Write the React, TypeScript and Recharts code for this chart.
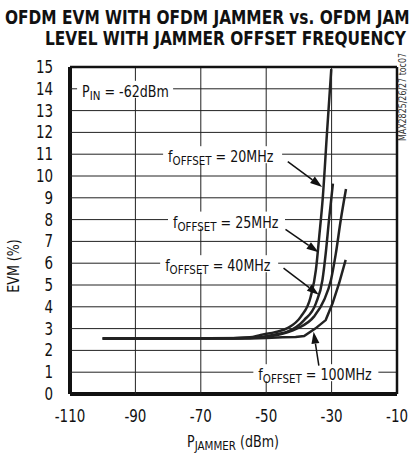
import React from "react";
import { LineChart, Line, XAxis, YAxis } from "recharts";

const FONT = "'Liberation Sans Narrow', 'DejaVu Sans Condensed', 'Roboto', sans-serif";
const SQUEEZE = 0.88;

const W = 410;
const H = 453;
const MARGIN = { top: 67, right: 13, bottom: 0, left: 0 };
const YAXIS_W = 70;
const XAXIS_H = 59;

const xTicks = [-110, -90, -70, -50, -30, -10];
const yTicks = [0, 1, 2, 3, 4, 5, 6, 7, 8, 9, 10, 11, 12, 13, 14, 15];
const X_MIN = -110;
const X_MAX = -10;
const Y_MIN = 0;
const Y_MAX = 15;

// EVM (%) vs jammer power (dBm), one array per offset frequency
const offset20 = [
  { p: -100, evm: 2.55 },
  { p: -80, evm: 2.55 },
  { p: -60, evm: 2.56 },
  { p: -55, evm: 2.6 },
  { p: -51.7, evm: 2.71 },
  { p: -47, evm: 2.85 },
  { p: -43.5, evm: 3.02 },
  { p: -39.4, evm: 3.55 },
  { p: -36.4, evm: 4.46 },
  { p: -34.8, evm: 5.69 },
  { p: -33.8, evm: 7.2 },
  { p: -32.7, evm: 9.0 },
  { p: -31.4, evm: 12.0 },
  { p: -30.1, evm: 14.9 },
];

const offset25 = [
  { p: -100, evm: 2.55 },
  { p: -80, evm: 2.55 },
  { p: -60, evm: 2.56 },
  { p: -55, evm: 2.58 },
  { p: -50, evm: 2.65 },
  { p: -46.5, evm: 2.75 },
  { p: -43.5, evm: 2.86 },
  { p: -38.4, evm: 3.39 },
  { p: -34.8, evm: 4.16 },
  { p: -32.8, evm: 5.23 },
  { p: -31.8, evm: 6.45 },
  { p: -30.8, evm: 7.98 },
  { p: -29.6, evm: 9.65 },
];

const offset40 = [
  { p: -100, evm: 2.55 },
  { p: -80, evm: 2.55 },
  { p: -55, evm: 2.57 },
  { p: -50, evm: 2.62 },
  { p: -46.6, evm: 2.71 },
  { p: -43.5, evm: 2.83 },
  { p: -40.5, evm: 3.01 },
  { p: -35.4, evm: 3.55 },
  { p: -32.3, evm: 4.31 },
  { p: -30.2, evm: 5.23 },
  { p: -28.7, evm: 6.45 },
  { p: -27.2, evm: 7.98 },
  { p: -25.6, evm: 9.4 },
];

const offset100 = [
  { p: -100, evm: 2.55 },
  { p: -80, evm: 2.55 },
  { p: -55, evm: 2.55 },
  { p: -50, evm: 2.57 },
  { p: -45, evm: 2.6 },
  { p: -41, evm: 2.62 },
  { p: -38.4, evm: 2.66 },
  { p: -35, evm: 3.0 },
  { p: -31.8, evm: 3.39 },
  { p: -29.7, evm: 4.16 },
  { p: -27.7, evm: 5.08 },
  { p: -25.7, evm: 6.15 },
];

const series = [
  { name: "20MHz", data: offset20, type: "monotone" },
  { name: "25MHz", data: offset25, type: "monotone" },
  { name: "40MHz", data: offset40, type: "monotone" },
  { name: "100MHz", data: offset100, type: "linear" },
];

// annotation labels: text start x (dBm), grid line they sit on (EVM), box width (px)
const labels = [
  { x: -106.3, y: 14, main: "P", sub: "IN", rest: " = -62dBm", w: 96 },
  { x: -80.0, y: 11, main: "f", sub: "OFFSET", rest: " = 20MHz", w: 119 },
  { x: -78.5, y: 8, main: "f", sub: "OFFSET", rest: " = 25MHz", w: 117 },
  { x: -80.9, y: 6, main: "f", sub: "OFFSET", rest: " = 40MHz", w: 118 },
  { x: -52.4, y: 1, main: "f", sub: "OFFSET", rest: " = 100MHz", w: 125 },
];

// arrow tails and tips (dBm, EVM)
const arrows = [
  { from: [-43.4, 10.66], to: [-32.9, 9.5] },
  { from: [-44.1, 7.55], to: [-34.0, 6.5] },
  { from: [-44.7, 5.77], to: [-33.9, 4.55] },
  { from: [-33.9, 1.3], to: [-35.5, 2.86] },
];

// plot box, same as the one the chart gets from its margins and axis sizes
const PL = MARGIN.left + YAXIS_W;
const PR = W - MARGIN.right;
const PT = MARGIN.top;
const PB = H - MARGIN.bottom - XAXIS_H;
const sx = (v: number) => PL + ((v - X_MIN) / (X_MAX - X_MIN)) * (PR - PL);
const sy = (v: number) => PB - ((v - Y_MIN) / (Y_MAX - Y_MIN)) * (PB - PT);

function XTick(props: any) {
  const { x, y, payload } = props;
  return (
    <text
      transform={`translate(${x},${y}) scale(${SQUEEZE},1)`}
      dy="0.71em"
      textAnchor="middle"
      fontFamily={FONT}
      fontSize={17}
      fill="#111"
    >
      {payload.value}
    </text>
  );
}

function YTick(props: any) {
  const { x, y, payload } = props;
  return (
    <text
      transform={`translate(${x},${y}) scale(${SQUEEZE},1)`}
      dy="0.355em"
      textAnchor="end"
      fontFamily={FONT}
      fontSize={17}
      fill="#111"
    >
      {payload.value}
    </text>
  );
}

function Arrow({ x1, y1, x2, y2 }: { x1: number; y1: number; x2: number; y2: number }) {
  const dx = x2 - x1;
  const dy = y2 - y1;
  const len = Math.sqrt(dx * dx + dy * dy);
  const ux = dx / len;
  const uy = dy / len;
  const hl = 12;
  const hw = 4;
  const bx = x2 - ux * hl;
  const by = y2 - uy * hl;
  return (
    <g>
      <line x1={x1} y1={y1} x2={bx} y2={by} stroke="#111" strokeWidth={1.5} />
      <polygon points={`${x2},${y2} ${bx - uy * hw},${by + ux * hw} ${bx + uy * hw},${by - ux * hw}`} fill="#111" />
    </g>
  );
}

export default function App() {
  return (
    <div style={{ position: "absolute", left: 0, top: 0, width: W, height: H, overflow: "hidden", background: "#fff" }}>
      <LineChart width={W} height={H} margin={MARGIN}>
        <XAxis
          dataKey="p"
          type="number"
          domain={[X_MIN, X_MAX]}
          ticks={xTicks}
          interval={0}
          height={XAXIS_H}
          tickSize={0}
          tickMargin={16}
          axisLine={{ stroke: "#111", strokeWidth: 4 }}
          tick={<XTick />}
        />
        <YAxis
          type="number"
          domain={[Y_MIN, Y_MAX]}
          ticks={yTicks}
          interval={0}
          width={YAXIS_W}
          tickSize={0}
          tickMargin={17}
          axisLine={{ stroke: "#111", strokeWidth: 4 }}
          tick={<YTick />}
        />
        {series.map((s) => (
          <Line
            key={s.name}
            data={s.data}
            dataKey="evm"
            type={s.type as any}
            stroke="#222"
            strokeWidth={2.5}
            dot={false}
            isAnimationActive={false}
          />
        ))}
      </LineChart>
      <svg width={W} height={H} style={{ position: "absolute", left: 0, top: 0, pointerEvents: "none" }}>
        {yTicks
          .filter((v) => v > Y_MIN && v < Y_MAX)
          .map((v) => (
            <line key={"h" + v} x1={PL} x2={PR} y1={sy(v)} y2={sy(v)} stroke="#222" strokeWidth={1} />
          ))}
        {xTicks
          .filter((v) => v > X_MIN && v < X_MAX)
          .map((v) => (
            <line key={"v" + v} x1={sx(v)} x2={sx(v)} y1={PT} y2={PB} stroke="#222" strokeWidth={1} />
          ))}
        <line x1={PL} x2={PR} y1={PT} y2={PT} stroke="#111" strokeWidth={2.5} />
        <line x1={PR} x2={PR} y1={PT} y2={PB} stroke="#111" strokeWidth={2.5} />
        {labels.map((l, i) => {
          const cx = sx(l.x);
          const cy = sy(l.y);
          return (
            <g key={"l" + i}>
              <rect x={cx - 5} y={cy - 8} width={l.w} height={17} fill="#fff" />
              <text
                transform={`translate(${cx},${cy + 8}) scale(${SQUEEZE},1)`}
                fontFamily={FONT}
                fontSize={16}
                fill="#111"
              >
                {l.main}
                <tspan fontSize={13} dy={3}>
                  {l.sub}
                </tspan>
                <tspan dy={-3}>{l.rest}</tspan>
              </text>
            </g>
          );
        })}
        {arrows.map((a, i) => (
          <Arrow key={"a" + i} x1={sx(a.from[0])} y1={sy(a.from[1])} x2={sx(a.to[0])} y2={sy(a.to[1])} />
        ))}
        <text
          transform="translate(5,24) scale(0.9,1)"
          fontFamily={FONT}
          fontWeight="bold"
          fontSize={19}
          fill="#111"
        >
          OFDM EVM WITH OFDM JAMMER vs. OFDM JAMMER
        </text>
        <text
          transform="translate(45,45) scale(0.9,1)"
          fontFamily={FONT}
          fontWeight="bold"
          fontSize={19}
          fill="#111"
        >
          LEVEL WITH JAMMER OFFSET FREQUENCY
        </text>
        <text
          transform={`translate(19,266) rotate(-90) scale(${SQUEEZE},1)`}
          textAnchor="middle"
          fontFamily={FONT}
          fontSize={16}
          fill="#111"
        >
          EVM (%)
        </text>
        <text
          transform={`translate(233,447) scale(${SQUEEZE},1)`}
          textAnchor="middle"
          fontFamily={FONT}
          fontSize={16}
          fill="#111"
        >
          P
          <tspan fontSize={13} dy={3}>
            JAMMER
          </tspan>
          <tspan dy={-3}> (dBm)</tspan>
        </text>
        <text
          transform="translate(406,53) rotate(-90) scale(0.88,1)"
          textAnchor="end"
          fontFamily={FONT}
          fontSize={10}
          fill="#333"
        >
          MAX2825/26/27 toc07
        </text>
      </svg>
    </div>
  );
}
